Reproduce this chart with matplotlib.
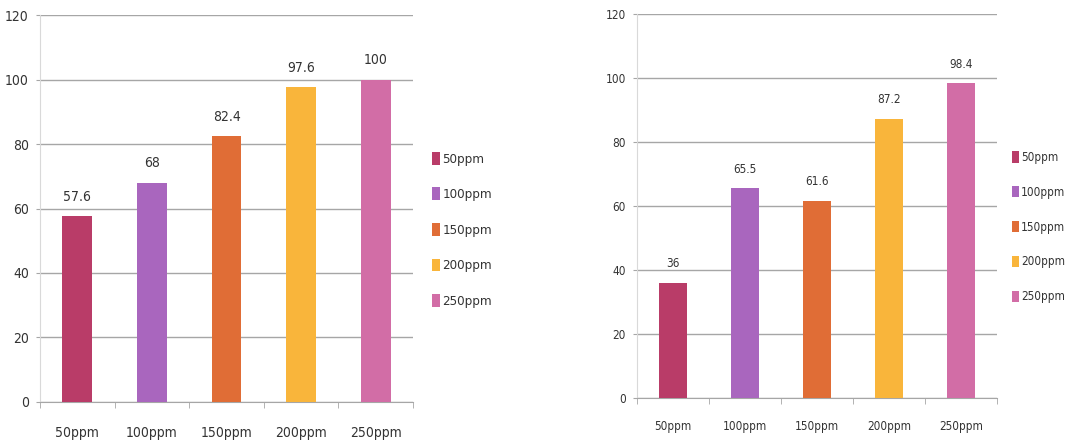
import matplotlib.pyplot as plt
from matplotlib.patches import Patch

categories = ["50ppm", "100ppm", "150ppm", "200ppm", "250ppm"]
left_values = [57.6, 68, 82.4, 97.6, 100]
right_values = [36, 65.5, 61.6, 87.2, 98.4]
yticks = [0, 20, 40, 60, 80, 100, 120]
colors = ["#B93C68", "#A966BE", "#E06D36", "#F9B53B", "#D26DA6"]

plt.rcParams['font.family'] = ['DejaVu Sans']
plt.rcParams['font.stretch'] = 'condensed'

fig = plt.figure(figsize=(10.66, 4.47), dpi=100)
ax1 = fig.add_axes([0.0375, 0.1007, 0.35, 0.8657])
ax2 = fig.add_axes([0.5976, 0.1096, 0.3377, 0.859])


def draw_panel(ax, values, fs, lab_pad, legend_anchor, leg_fs, leg_space):
    x = list(range(len(categories)))
    bars = ax.bar(x, values, width=0.4, color=colors, zorder=3)
    for b, v in zip(bars, values):
        ax.annotate(f"{v:g}", (b.get_x() + b.get_width() / 2, v),
                    xytext=(0, 9), textcoords="offset points",
                    ha="center", va="bottom", fontsize=fs, color="#333333")
    ax.set_xlim(-0.5, len(categories) - 0.5)
    ax.set_ylim(0, 120)
    ax.set_yticks(yticks)
    ax.yaxis.grid(True, color="#A6A6A6", linewidth=1, zorder=0)
    ax.tick_params(axis="y", length=3, color="#A6A6A6", labelsize=fs,
                   labelcolor="#333333", pad=5)
    ax.set_xticks(x)
    ax.set_xticklabels(categories)
    ax.set_xticks([i - 0.5 for i in range(len(categories) + 1)], minor=True)
    ax.tick_params(axis="x", which="major", length=0, labelsize=fs,
                   labelcolor="#333333", pad=lab_pad)
    ax.tick_params(axis="x", which="minor", length=4, color="#A6A6A6")
    for s in ["top", "right"]:
        ax.spines[s].set_visible(False)
    ax.spines["left"].set_color("#D9D9D9")
    ax.spines["bottom"].set_color("#A6A6A6")
    handles = [Patch(facecolor=c, label=l) for c, l in zip(colors, categories)]
    fig.legend(handles=handles, loc="center left", bbox_to_anchor=legend_anchor,
               frameon=False, fontsize=leg_fs, handlelength=0.6,
               handleheight=1.1, handletextpad=0.2, labelspacing=leg_space,
               labelcolor="#333333")


draw_panel(ax1, left_values, 10, 17, (0.394, 0.4855), 9.5, 1.65)
draw_panel(ax2, right_values, 8.5, 16, (0.939, 0.492), 8.5, 1.85)

fig.savefig("out.png", dpi=100)
